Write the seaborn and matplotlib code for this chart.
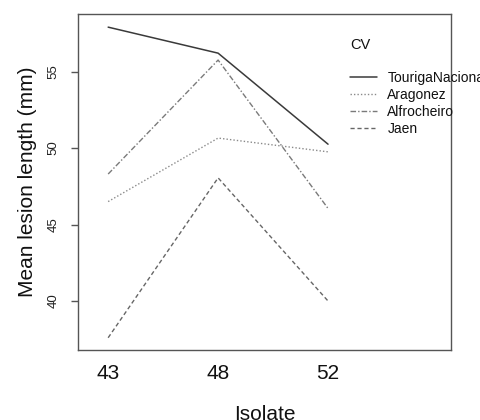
import numpy as np
import pandas as pd
import matplotlib
matplotlib.use("Agg")
import matplotlib.pyplot as plt
import seaborn as sns

# values
isolates = ["43", "48", "52"]
touriga = [57.9, 56.2, 50.25]
aragonez = [46.5, 50.65, 49.75]
alfrocheiro = [48.3, 55.75, 46.05]
jaen = [37.6, 48.05, 40.0]
cultivars = ["TourigaNacional", "Aragonez", "Alfrocheiro", "Jaen"]
y_ticks = [40, 45, 50, 55]

series = {"TourigaNacional": touriga, "Aragonez": aragonez,
          "Alfrocheiro": alfrocheiro, "Jaen": jaen}
df = pd.DataFrame([
    {"Isolate": iso, "CV": cv, "lesion": val}
    for cv in cultivars for iso, val in zip(isolates, series[cv])
])

sns.set_theme(style="ticks")
plt.rcParams["font.family"] = ["Liberation Sans", "DejaVu Sans"]
plt.rcParams["text.color"] = "#111111"
plt.rcParams["axes.labelcolor"] = "#111111"

styles = {
    "TourigaNacional": ("-", "#3a3a3a", 1.1),
    "Aragonez": ((0, (1, 1.5)), "#8a8a8a", 1.0),
    "Alfrocheiro": ((0, (4, 1.5, 1, 1.5)), "#7a7a7a", 1.0),
    "Jaen": ((0, (3, 2)), "#666666", 1.0),
}

fig = plt.figure(figsize=(4.81, 4.2), dpi=100)
ax = fig.add_axes([0.162, 0.1667, 0.776, 0.80])

for cv in cultivars:
    ls, col, lw = styles[cv]
    sns.lineplot(data=df[df["CV"] == cv], x="Isolate", y="lesion", ax=ax,
                 color=col, linestyle=ls, linewidth=lw, label=cv)

ax.set_xlim(-0.275, 3.12)
ax.set_ylim(36.8, 58.76)
ax.set_yticks(y_ticks)
ax.set_yticklabels([str(v) for v in y_ticks], rotation=90, va="center")
ax.tick_params(axis="y", direction="out", length=5, width=1.0, color="#555555",
               labelcolor="#222222", pad=8, labelsize=9.5, left=True)
ax.tick_params(axis="x", length=0, pad=10, labelsize=15, labelcolor="#111111")

for s in ax.spines.values():
    s.set_visible(True)
    s.set_color("#555555")
    s.set_linewidth(1.0)

ax.set_xlabel("Isolate", fontsize=15, labelpad=16)
ax.set_ylabel("Mean lesion length (mm)", fontsize=15, labelpad=8)

leg = ax.legend(title="CV", loc="upper left", bbox_to_anchor=(0.696, 0.967),
                frameon=False, fontsize=10, title_fontsize=10.5, handlelength=1.95,
                handletextpad=0.72, labelspacing=0.22, alignment="left")
leg._legend_box.sep = 14

fig.savefig("out.png", dpi=100)
